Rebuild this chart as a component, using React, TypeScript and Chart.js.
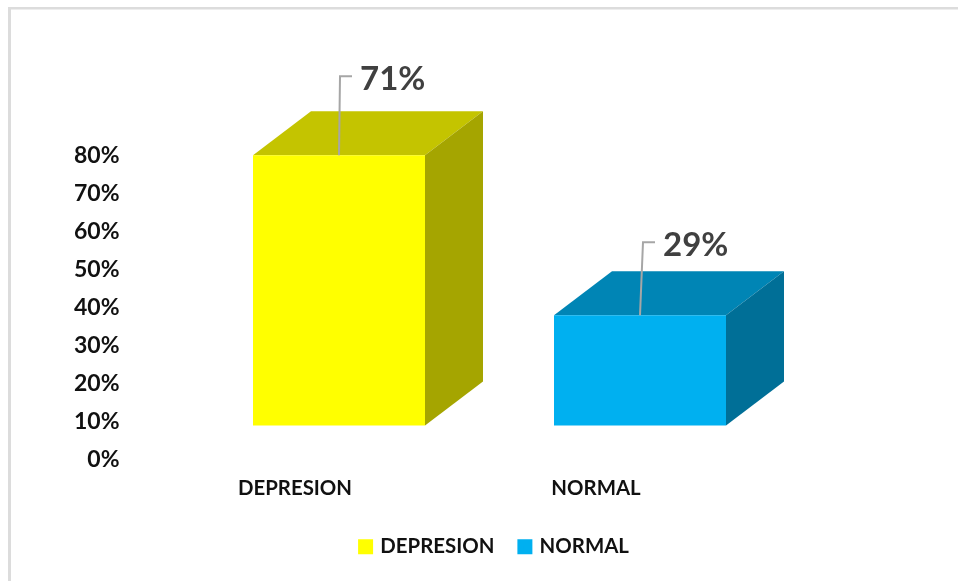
import React, { useEffect, useRef } from "react";
import { Chart, registerables } from "chart.js";

Chart.register(...registerables);

// Chart content
const categories = ["DEPRESION", "NORMAL"];
const shares = [71, 29];
const axisTicks = [0, 10, 20, 30, 40, 50, 60, 70, 80];

// Face colours of each block: front, top, side
const frontColors = ["#FFFF00", "#00B0F0"];
const topColors = ["#C4C400", "#0085B5"];
const sideColors = ["#A5A500", "#006F97"];

const FONT = "Lato, Carlito, 'Open Sans', sans-serif";
const DEPTH_X = 58;
const DEPTH_Y = 44;

const fill = (ctx: CanvasRenderingContext2D, color: string, pts: number[][]) => {
  ctx.fillStyle = color;
  ctx.beginPath();
  pts.forEach(([x, y], i) => (i ? ctx.lineTo(x, y) : ctx.moveTo(x, y)));
  ctx.closePath();
  ctx.fill();
};

// Thin rule along the top and left of the panel
const panelFrame = {
  id: "panelFrame",
  beforeDraw(chart: any) {
    const { ctx, width, height } = chart;
    ctx.save();
    ctx.fillStyle = "#DCDCDC";
    ctx.fillRect(8, 7, width - 8, 2.5);
    ctx.fillRect(8, 7, 3, height - 7);
    ctx.restore();
  },
};

// Extrudes each bar into a box by adding its top and side faces
const boxFaces = {
  id: "boxFaces",
  beforeDatasetsDraw(chart: any) {
    const { ctx } = chart;
    ctx.save();
    chart.getDatasetMeta(0).data.forEach((bar: any, i: number) => {
      const l = bar.x - bar.width / 2;
      const r = bar.x + bar.width / 2;
      fill(ctx, topColors[i], [
        [l, bar.y],
        [l + DEPTH_X, bar.y - DEPTH_Y],
        [r + DEPTH_X, bar.y - DEPTH_Y],
        [r, bar.y],
      ]);
      fill(ctx, sideColors[i], [
        [r, bar.y],
        [r + DEPTH_X, bar.y - DEPTH_Y],
        [r + DEPTH_X, bar.base - DEPTH_Y],
        [r, bar.base],
      ]);
    });
    ctx.restore();
  },
};

// Value callouts with an elbow leader line starting at the bar's top edge
const callouts = {
  id: "callouts",
  afterDatasetsDraw(chart: any) {
    const { ctx } = chart;
    const rise = [79, 73];
    const lean = [1, 3];
    ctx.save();
    chart.getDatasetMeta(0).data.forEach((bar: any, i: number) => {
      const elbowX = bar.x + lean[i];
      const elbowY = bar.y - rise[i];
      ctx.strokeStyle = "#A6A6A6";
      ctx.lineWidth = 2;
      ctx.beginPath();
      ctx.moveTo(bar.x, bar.y);
      ctx.lineTo(elbowX, elbowY);
      ctx.lineTo(elbowX + 12, elbowY);
      ctx.stroke();
      ctx.fillStyle = "#404040";
      ctx.font = `bold 33px ${FONT}`;
      ctx.textAlign = "left";
      ctx.textBaseline = "middle";
      ctx.fillText(`${shares[i]}%`, elbowX + 20, elbowY + 3);
    });
    ctx.restore();
  },
};

export default function App() {
  const canvasRef = useRef<HTMLCanvasElement>(null);

  useEffect(() => {
    const chart = new Chart(canvasRef.current!, {
      type: "bar",
      data: {
        labels: categories,
        datasets: [
          {
            data: shares,
            yAxisID: "yBars",
            backgroundColor: frontColors,
            categoryPercentage: 1,
            barPercentage: 172 / 301,
          },
        ],
      },
      options: {
        animation: false,
        responsive: false,
        layout: { padding: { left: 32, right: 0, top: 79, bottom: 14 } },
        scales: {
          x: {
            grid: { display: false },
            border: { display: false },
            afterFit: (s: any) => {
              s.height = 51;
            },
            ticks: {
              color: "#111111",
              font: { family: FONT, weight: "bold", size: 20.4 },
              labelOffset: -44,
              padding: 9,
              maxRotation: 0,
              autoSkip: false,
            },
          },
          y: {
            position: "left",
            min: 0,
            max: 100,
            grid: { display: false },
            border: { display: false },
            afterFit: (s: any) => {
              s.width = 156.5;
            },
            afterBuildTicks: (s: any) => {
              s.ticks = axisTicks.map((value) => ({ value }));
            },
            ticks: {
              color: "#111111",
              font: { family: FONT, weight: "bold", size: 23 },
              padding: 61,
              callback: (v: any) => `${v}%`,
            },
          },
          // The boxes stand on a floor raised above the printed axis
          yBars: {
            position: "right",
            min: -8.947,
            max: 91.053,
            grid: { display: false },
            border: { display: false },
            ticks: { display: false },
            afterFit: (s: any) => {
              s.width = 167.5;
            },
          },
        },
        plugins: {
          tooltip: { enabled: false },
          legend: {
            position: "bottom",
            labels: {
              boxWidth: 9,
              boxHeight: 9,
              padding: 26,
              color: "#111111",
              font: { family: FONT, weight: "bold", size: 20.4 },
              generateLabels: () =>
                categories.map((text, i) => ({
                  text,
                  fillStyle: frontColors[i],
                  strokeStyle: frontColors[i],
                  lineWidth: 6,
                  fontColor: "#111111",
                  index: i,
                })),
            },
          },
        },
      },
      plugins: [panelFrame, boxFaces, callouts],
    } as any);
    return () => chart.destroy();
  }, []);

  return (
    <div style={{ position: "fixed", left: 0, top: 0, width: 958, height: 581, background: "#fff" }}>
      <canvas ref={canvasRef} width={958} height={581} style={{ display: "block" }} />
    </div>
  );
}
